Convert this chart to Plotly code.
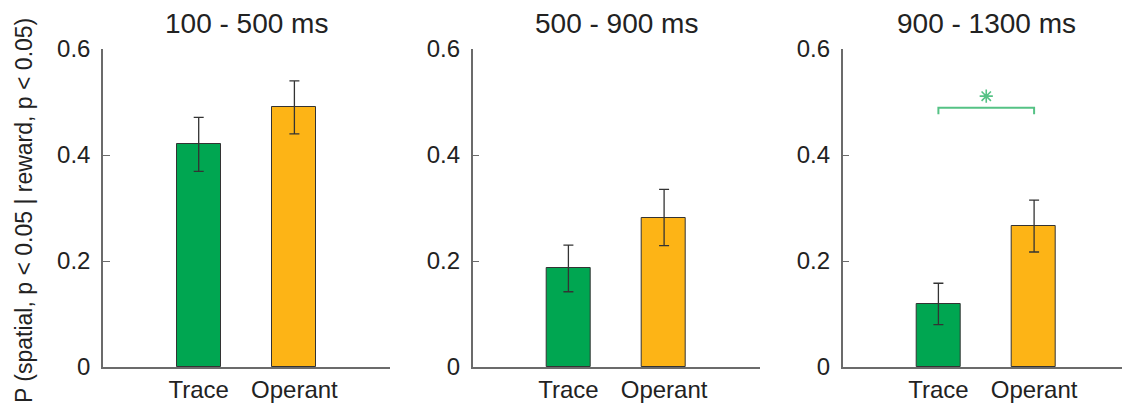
import plotly.graph_objects as go

# ---- data ----
panel_titles = ["100 - 500 ms", "500 - 900 ms", "900 - 1300 ms"]
categories = ["Trace", "Operant"]
trace_means = [0.42, 0.186, 0.119]
trace_err = [0.051, 0.044, 0.039]
operant_means = [0.490, 0.282, 0.266]
operant_err = [0.050, 0.053, 0.049]
y_ticks = [0, 0.2, 0.4, 0.6]
y_tick_labels = ["0", "0.2", "0.4", "0.6"]
y_label = "P (spatial, p < 0.05 | reward, p < 0.05)"
# significance bracket (panel index, y level, drop)
sig_panel = 2
sig_level = 0.489
sig_drop = 0.012
sig_star_y = 0.511

GREEN = "#00A651"
ORANGE = "#FDB416"
SIG_GREEN = "#55C285"
AXIS_GRAY = "#6b6b6b"
TEXT = "#222222"
FONT = "Liberation Sans, Arial, Helvetica, sans-serif"

W, H = 1122, 410
x_left_px = [103, 472.7, 842.7]
px_per_unit = 95.7
y0_px, ytop_px = 367, 49

fig = go.Figure()
cat_pos = [1, 2]

for i in range(3):
    xa = "x" if i == 0 else f"x{i+1}"
    ya = "y" if i == 0 else f"y{i+1}"
    means = [trace_means[i], operant_means[i]]
    errs = [trace_err[i], operant_err[i]]
    fig.add_trace(go.Bar(
        x=cat_pos, y=means, width=0.46,
        marker=dict(color=[GREEN, ORANGE], line=dict(color="#333333", width=1)),
        error_y=dict(type="data", array=errs, visible=True, color="#333333",
                     thickness=1.3, width=5),
        xaxis=xa, yaxis=ya, showlegend=False,
    ))
    x_end_px = min(x_left_px[i] + 3 * px_per_unit, W)
    xmax = (x_end_px - x_left_px[i]) / px_per_unit
    dom = [x_left_px[i] / W, x_end_px / W]
    xkey = "xaxis" if i == 0 else f"xaxis{i+1}"
    ykey = "yaxis" if i == 0 else f"yaxis{i+1}"
    fig.layout[xkey] = dict(
        domain=dom, range=[0, xmax], anchor=ya, automargin=False,
        tickmode="array", tickvals=cat_pos, ticktext=categories,
        showline=True, linecolor=AXIS_GRAY, linewidth=1.5,
        ticks="", showgrid=False, zeroline=False,
        tickfont=dict(family=FONT, size=24, color=TEXT),
        fixedrange=True,
    )
    fig.layout[ykey] = dict(
        domain=[(H - y0_px) / H, (H - ytop_px) / H], range=[0, 0.6], anchor=xa,
        automargin=False,
        tickmode="array", tickvals=y_ticks, ticktext=y_tick_labels,
        showline=True, linecolor=AXIS_GRAY, linewidth=1.5,
        ticks="inside", ticklen=7, tickcolor=AXIS_GRAY, tickwidth=1.2,
        showgrid=False, zeroline=False,
        tickfont=dict(family=FONT, size=24, color=TEXT),
        ticklabelstandoff=6,
        fixedrange=True,
    )
    cx = (dom[0] + (x_left_px[i] + 3 * px_per_unit) / W) / 2
    fig.add_annotation(
        text=panel_titles[i], x=cx, y=(H - 23) / H, xref="paper", yref="paper",
        xanchor="center", yanchor="middle", showarrow=False,
        font=dict(family=FONT, size=28, color=TEXT),
    )

# significance bracket
xa = f"x{sig_panel+1}"
ya = f"y{sig_panel+1}"
fig.add_trace(go.Scatter(
    x=[cat_pos[0], cat_pos[0], cat_pos[1], cat_pos[1]],
    y=[sig_level - sig_drop, sig_level, sig_level, sig_level - sig_drop],
    mode="lines", line=dict(color=SIG_GREEN, width=2),
    xaxis=xa, yaxis=ya, showlegend=False, hoverinfo="skip",
))
fig.add_trace(go.Scatter(
    x=[(cat_pos[0] + cat_pos[1]) / 2], y=[sig_star_y], mode="markers",
    marker=dict(symbol="asterisk-open", size=11, color=SIG_GREEN,
                line=dict(color=SIG_GREEN, width=1.6)),
    xaxis=xa, yaxis=ya, showlegend=False, hoverinfo="skip",
))

# y-axis label
fig.add_annotation(
    text=y_label, x=24 / W, y=(H - 211) / H, xref="paper", yref="paper",
    xanchor="center", yanchor="middle", textangle=-90, showarrow=False,
    font=dict(family=FONT, size=23, color=TEXT),
)

fig.update_layout(
    width=W, height=H, margin=dict(l=0, r=0, t=0, b=0, autoexpand=False),
    paper_bgcolor="white", plot_bgcolor="white", bargap=0,
)

fig.write_html("out.html")
